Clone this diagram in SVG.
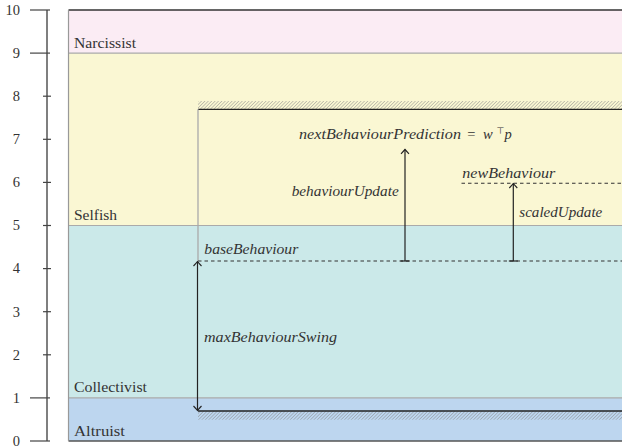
<svg xmlns="http://www.w3.org/2000/svg" width="622" height="446" viewBox="0 0 622 446">
<style>
.tick{stroke:#444;stroke-width:1.2}
.tl{font-family:"Liberation Serif","DejaVu Serif",serif;font-size:14.5px;fill:#333;text-anchor:end}
.band{font-family:"Liberation Serif","DejaVu Serif",serif;font-size:14.5px;fill:#333}
.m{font-family:"Liberation Serif","DejaVu Serif",serif;font-size:14.5px;font-style:italic;fill:#333}
.mr{font-family:"Liberation Serif","DejaVu Serif",serif;font-size:14.5px;fill:#333}
.sup{font-family:"DejaVu Sans","Liberation Serif",serif;font-size:9px;fill:#333}
.sep{stroke:#aaaaaa;stroke-width:1.2}
.arr{stroke:#222;stroke-width:1.2;fill:none}
.dash{stroke:#333;stroke-width:1.1;stroke-dasharray:3.5,3;fill:none}
</style>
<defs>
<pattern id="hatch" patternUnits="userSpaceOnUse" width="2.4" height="2.4" patternTransform="rotate(45)">
<line x1="0" y1="0" x2="0" y2="2.4" stroke="#888" stroke-width="0.9"/>
</pattern>
<marker id="tip" viewBox="-9 -5 10 10" refX="0" refY="0" markerWidth="10" markerHeight="10" markerUnits="userSpaceOnUse" orient="auto-start-reverse">
<path d="M-4.5,-4 Q-1.5,-1.2 0,0 Q-1.5,1.2 -4.5,4" fill="none" stroke="#222" stroke-width="1.1"/>
</marker>
</defs>
<rect width="622" height="446" fill="#ffffff"/>
<g id="bands">
<rect x="68.5" y="10" width="554" height="43.1" fill="#fbecf4"/>
<rect x="68.5" y="53.1" width="554" height="172.4" fill="#faf7d3"/>
<rect x="68.5" y="225.5" width="554" height="172.4" fill="#cbe9e9"/>
<rect x="68.5" y="397.9" width="554" height="43.1" fill="#bdd6ef"/>
<line class="sep" x1="68.5" y1="53.1" x2="622" y2="53.1"/>
<line class="sep" x1="68.5" y1="225.5" x2="622" y2="225.5"/>
<line class="sep" x1="68.5" y1="397.9" x2="622" y2="397.9"/>
<line x1="68.5" y1="10" x2="622" y2="10" stroke="#333" stroke-width="1.3"/>
<line x1="68.5" y1="441" x2="622" y2="441" stroke="#555" stroke-width="1.3"/>
<line x1="68.5" y1="10" x2="68.5" y2="441" stroke="#999" stroke-width="1.2"/>
<text class="band" x="74" y="47.5" textLength="62" lengthAdjust="spacingAndGlyphs">Narcissist</text>
<text class="band" x="74" y="220" textLength="43" lengthAdjust="spacingAndGlyphs">Selfish</text>
<text class="band" x="74" y="392.3" textLength="73" lengthAdjust="spacingAndGlyphs">Collectivist</text>
<text class="band" x="74" y="436" textLength="51" lengthAdjust="spacingAndGlyphs">Altruist</text>
</g>
<g id="axis">
<line x1="47" y1="10" x2="47" y2="441" stroke="#555" stroke-width="1.5"/>
<line class="tick" x1="30" y1="10" x2="50" y2="10"/>
<line class="tick" x1="30" y1="53.1" x2="50" y2="53.1"/>
<line class="tick" x1="43" y1="96.2" x2="51" y2="96.2"/>
<line class="tick" x1="43" y1="139.3" x2="51" y2="139.3"/>
<line class="tick" x1="43" y1="182.4" x2="51" y2="182.4"/>
<line class="tick" x1="43" y1="225.5" x2="51" y2="225.5"/>
<line class="tick" x1="43" y1="268.6" x2="51" y2="268.6"/>
<line class="tick" x1="43" y1="311.7" x2="51" y2="311.7"/>
<line class="tick" x1="43" y1="354.8" x2="51" y2="354.8"/>
<line class="tick" x1="30" y1="397.9" x2="50" y2="397.9"/>
<line class="tick" x1="30" y1="441" x2="50" y2="441"/>
<text class="tl" x="20" y="14.8">10</text>
<text class="tl" x="20" y="57.9">9</text>
<text class="tl" x="20" y="101">8</text>
<text class="tl" x="20" y="144.1">7</text>
<text class="tl" x="20" y="187.2">6</text>
<text class="tl" x="20" y="230.3">5</text>
<text class="tl" x="20" y="273.4">4</text>
<text class="tl" x="20" y="316.5">3</text>
<text class="tl" x="20" y="359.6">2</text>
<text class="tl" x="20" y="402.7">1</text>
<text class="tl" x="20" y="445.8">0</text>
</g>
<g id="envelope">
<rect x="198" y="101" width="424" height="8.3" fill="url(#hatch)"/>
<rect x="198" y="411.2" width="424" height="8.5" fill="url(#hatch)"/>
<line x1="198" y1="109.3" x2="622" y2="109.3" stroke="#222" stroke-width="1.3"/>
<line x1="198" y1="411" x2="622" y2="411" stroke="#222" stroke-width="1.3"/>
<line x1="198" y1="109.3" x2="198" y2="261" stroke="#aaa" stroke-width="1.3"/>
</g>
<g id="baseBehaviour">
<line class="dash" x1="198" y1="261" x2="622" y2="261"/>
<text class="m" x="204.3" y="254.3" textLength="94" lengthAdjust="spacingAndGlyphs">baseBehaviour</text>
</g>
<g id="newBehaviour">
<line class="dash" x1="461.5" y1="183.3" x2="622" y2="183.3"/>
<text class="m" x="462.3" y="177.7" textLength="93" lengthAdjust="spacingAndGlyphs">newBehaviour</text>
</g>
<g id="prediction">
<text class="m" x="299" y="139" textLength="162" lengthAdjust="spacingAndGlyphs">nextBehaviourPrediction</text>
<text class="mr" x="467.3" y="139">=</text>
<text class="m" x="483" y="139">w</text>
<text class="sup" x="496.5" y="134">⊤</text>
<text class="m" x="504.5" y="139">p</text>
</g>
<g id="connectors">
<line class="arr" x1="197.5" y1="261.5" x2="197.5" y2="410.5" marker-start="url(#tip)" marker-end="url(#tip)"/>
<line class="arr" x1="405" y1="261" x2="405" y2="149.3" marker-end="url(#tip)"/>
<line class="arr" x1="400.5" y1="261" x2="409.5" y2="261"/>
<line class="arr" x1="513.3" y1="261" x2="513.3" y2="183.5" marker-end="url(#tip)"/>
<line class="arr" x1="508.8" y1="261" x2="517.8" y2="261"/>
</g>
<g id="labels">
<text class="m" x="204" y="341.7" textLength="133" lengthAdjust="spacingAndGlyphs">maxBehaviourSwing</text>
<text class="m" x="291.7" y="196" textLength="107" lengthAdjust="spacingAndGlyphs">behaviourUpdate</text>
<text class="m" x="519.3" y="217.3" textLength="83" lengthAdjust="spacingAndGlyphs">scaledUpdate</text>
</g>
</svg>
